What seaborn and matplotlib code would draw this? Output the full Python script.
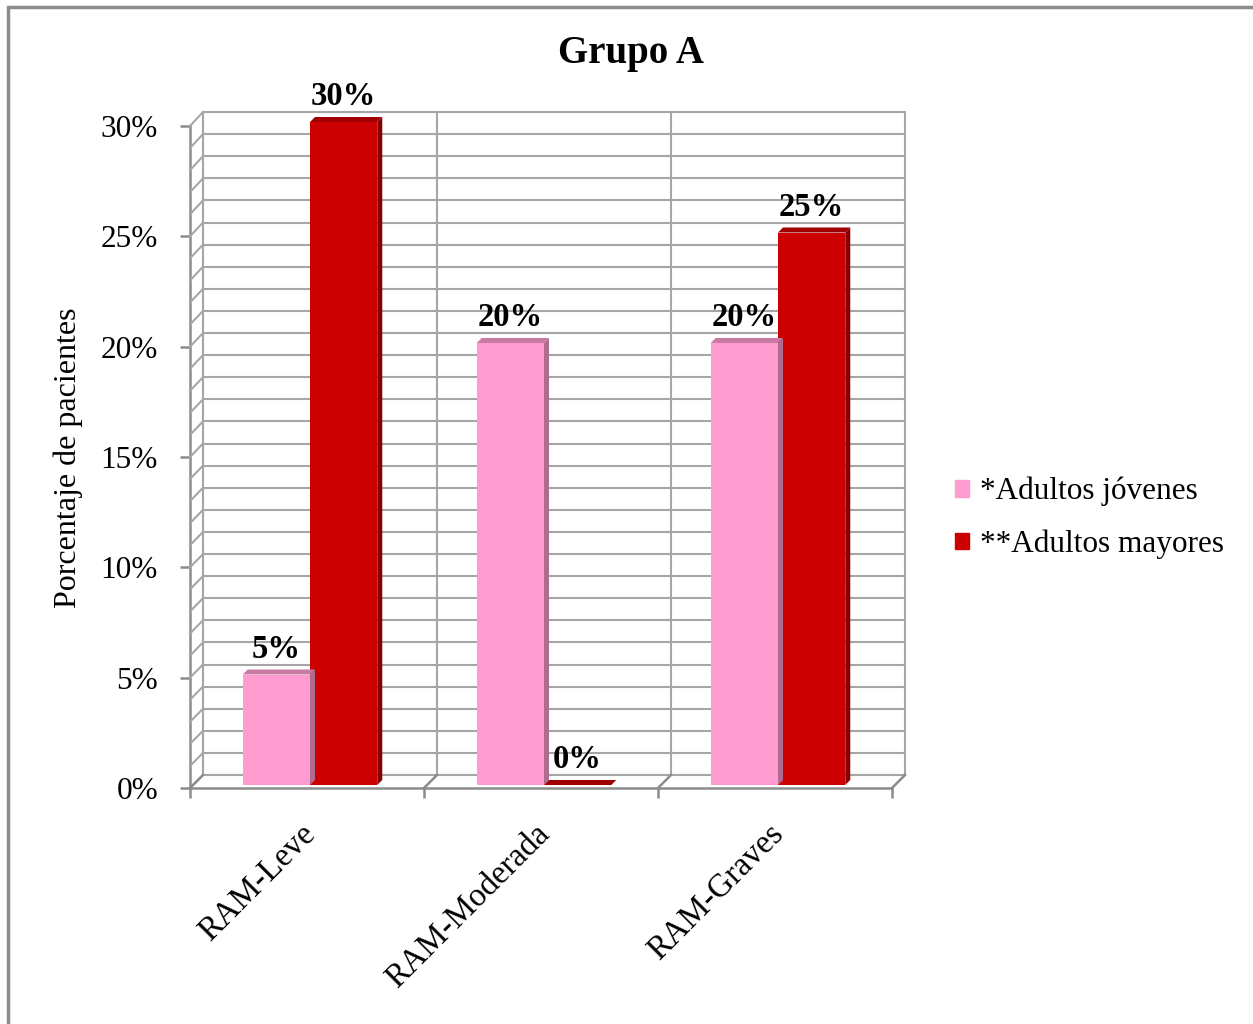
import numpy as np
import pandas as pd
import matplotlib
matplotlib.use("Agg")
import matplotlib.pyplot as plt
import seaborn as sns
from matplotlib.patches import Polygon, Patch, Rectangle
from matplotlib.lines import Line2D
from matplotlib.transforms import ScaledTranslation

# Datos del gráfico
categorias = ["RAM-Leve", "RAM-Moderada", "RAM-Graves"]
grupos = ["*Adultos jóvenes", "**Adultos mayores"]
jovenes = [0.05, 0.20, 0.20]
mayores = [0.30, 0.00, 0.25]
ticks_y = [0, 0.05, 0.10, 0.15, 0.20, 0.25, 0.30]
etiquetas_y = ["0%", "5%", "10%", "15%", "20%", "25%", "30%"]

df = pd.DataFrame({
    "categoria": categorias * 2,
    "grupo": [grupos[0]] * 3 + [grupos[1]] * 3,
    "valor": jovenes + mayores,
})

rosa, rojo = "#ff9ccf", "#cc0000"
caras = {rosa: ("#c97aa3", "#b06b90"), rojo: ("#a00000", "#850000")}
gris = "#a6a6a6"
gris_osc = "#8c8c8c"

W, H = 1253, 1024
fig = plt.figure(figsize=(W / 100, H / 100), dpi=100)
fig.patch.set_facecolor("white")
plt.rcParams["font.family"] = ["Liberation Serif", "DejaVu Serif"]

def rect(l, t, w, h):
    return [l / W, 1 - (t + h) / H, w / W, h / H]

# pared del fondo y eje frontal
ax = fig.add_axes(rect(203, 112, 702, 663))
axf = fig.add_axes(rect(190, 126, 702, 662))
for a in (ax, axf):
    a.set_xlim(-0.5, 2.5)
    a.set_ylim(0, 0.30)

sns.barplot(data=df, x="categoria", y="valor", hue="grupo", palette=[rosa, rojo],
            width=0.575, saturation=1, linewidth=0, legend=False, ax=ax, zorder=3)
ax.set_xlim(-0.5, 2.5)
ax.set_ylim(0, 0.30)
ax.set_xlabel("")
ax.set_ylabel("")
ax.set_yticks(np.arange(0, 0.3001, 0.01))
ax.yaxis.grid(True, color=gris, lw=1.5)
ax.tick_params(length=0, labelleft=False, labelbottom=False)
for x in (0.5, 1.5):
    ax.axvline(x, color=gris, lw=1.5)
for s in ax.spines.values():
    s.set_color(gris)
    s.set_linewidth(1.5)

a2f = fig.transFigure.inverted()
desp = ScaledTranslation(-0.10, -0.10, fig.dpi_scale_trans)
prof = 5
for p in list(ax.patches):
    col = matplotlib.colors.to_hex(p.get_facecolor())
    p.set_transform(ax.transData + desp)
    p.set_clip_on(False)
    x0, x1 = p.get_x(), p.get_x() + p.get_width()
    h = p.get_height()
    pts = ax.transData.transform([(x0, h), (x1, h), (x1, 0)]) + np.array([-10, -10])
    (ax0, ay), (ax1_, _), (_, ab) = pts
    arriba, lado = caras[col]
    tapa = [(ax0, ay), (ax1_, ay), (ax1_ + prof, ay + prof), (ax0 + prof, ay + prof)]
    costado = [(ax1_, ab), (ax1_ + prof, ab + prof), (ax1_ + prof, ay + prof), (ax1_, ay)]
    for poly, c in ((tapa, arriba), (costado, lado)):
        fig.add_artist(Polygon(a2f.transform(poly), closed=True, color=c, lw=0,
                               transform=fig.transFigure, zorder=4))
    ax.annotate(f"{h * 100:.0f}%", xy=(p.get_x() + p.get_width() / 2, h),
                xytext=(-7.2, 5), textcoords="offset points", ha="center",
                va="baseline", fontsize=23.5, fontweight="bold", zorder=6)

# eje frontal
axf.patch.set_alpha(0)
for s in ("top", "right"):
    axf.spines[s].set_visible(False)
for s in ("left", "bottom"):
    axf.spines[s].set_color(gris_osc)
    axf.spines[s].set_linewidth(1.8)
axf.set_yticks(ticks_y, etiquetas_y)
axf.set_xticks([-0.5, 0.5, 1.5, 2.5], [""] * 4)
axf.tick_params(direction="out", length=7, width=1.8, color=gris_osc, labelsize=22.5)
axf.tick_params(axis="y", pad=16)
for i, cat in enumerate(categorias):
    axf.annotate(cat, xy=(i, 0), xytext=(-5, -22), textcoords="offset points",
                 ha="right", va="top", rotation=45, rotation_mode="anchor",
                 fontsize=23.5, annotation_clip=False)

# pared lateral y suelo (líneas en diagonal)
for v in np.arange(0, 0.3001, 0.01):
    fr = axf.transData.transform((-0.5, v))
    bk = ax.transData.transform((-0.5, v))
    fig.add_artist(Line2D(*zip(*a2f.transform([fr, bk])), color=gris, lw=1.5))
for x in (-0.5, 0.5, 1.5, 2.5):
    fr = axf.transData.transform((x, 0))
    bk = ax.transData.transform((x, 0))
    fig.add_artist(Line2D(*zip(*a2f.transform([fr, bk])), color=gris_osc, lw=1.8))

fig.text(68 / W, 1 - 458 / H, "Porcentaje de pacientes", rotation=90,
         ha="center", va="center", fontsize=23)
fig.text(631 / W, 1 - 53 / H, "Grupo A", ha="center", va="center",
         fontsize=28, fontweight="bold")

handles = [Patch(color=rosa), Patch(color=rojo)]
fig.legend(handles, grupos, loc="center left", bbox_to_anchor=(955 / W, 1 - 518 / H),
           frameon=False, fontsize=22.5, handlelength=0.45, handleheight=0.45,
           handletextpad=0.35, labelspacing=0.75, borderaxespad=0, borderpad=0)

fig.add_artist(Rectangle((8 / W, -0.1), 1.2, 1 - 7 / H + 0.1, transform=fig.transFigure,
                         fill=False, ec=gris_osc, lw=2.5))

fig.savefig("out.png", dpi=100)
